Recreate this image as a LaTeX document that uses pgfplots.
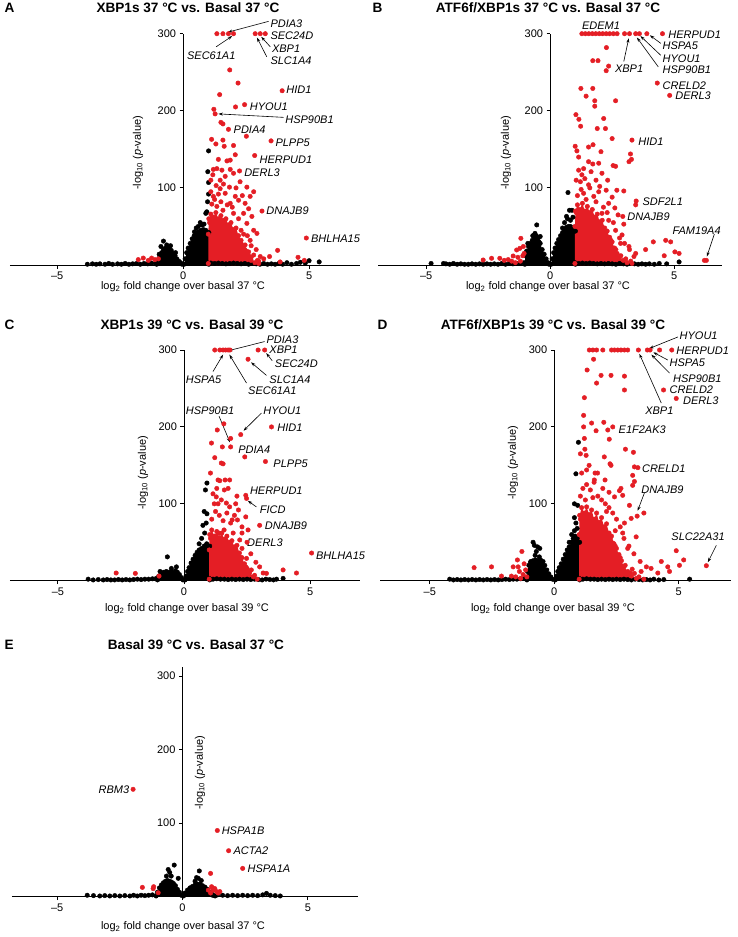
\documentclass[border=0pt]{standalone}
\usepackage{fontspec}
\setmainfont{Liberation Sans}
\usepackage{pgfplots}
\pgfplotsset{compat=1.18}
\usepackage{pgfplotstable}
\usetikzlibrary{arrows.meta}
\definecolor{vred}{RGB}{228,30,37}

\pgfplotsset{
  volc/.style={
    scale only axis, axis lines=middle, clip=false,
    axis line style={-, line width=0.9pt},
    ymin=0, ymax=300,
    xtick={-5,0,5}, xticklabels={\textendash5,0,5},
    ytick={100,200,300}, yticklabels={100,200,300},
    hide obscured x ticks=false, hide obscured y ticks=false,
    tick align=outside, major tick length=3.5pt,
    tick style={line width=0.9pt, black},
    tick label style={font=\fontsize{11}{13}\selectfont},
    /pgf/number format/assume math mode=true,
  },
  bdot/.style={only marks, color=black, mark=*, mark size=2.25pt, mark options={draw=black, fill=black, line width=0.4pt, solid}},
  rdot/.style={only marks, color=vred, mark=*, mark size=2.25pt, mark options={draw=vred, fill=vred, line width=0.4pt, solid}},
  bblob/.style={fill=black, draw=none},
  rblob/.style={fill=vred, draw=none},
}
\tikzset{
  gl/.style={font=\fontsize{11}{13}\selectfont\itshape, inner sep=0pt, anchor=west},
  arr/.style={-{Stealth[length=4.5pt,width=3pt]}, line width=0.6pt},
}
\newcommand{\ttl}{\fontsize{13.6}{15}\selectfont\bfseries}
\newcommand{\lbl}{\fontsize{11}{13}\selectfont}
\newcommand{\ylab}{-log\textsubscript{10} (\textit{p}-value)}

% ---------- Panel A blobs ----------
\pgfplotstableread{
x y
-1.05 1
-1.0 6
-0.92 11
-0.85 16
-0.78 20
-0.7 22
-0.62 21
-0.55 23
-0.47 19
-0.4 15
-0.32 12
-0.25 8
-0.17 5
-0.1 3
-0.04 1
}\AbL
\pgfplotstableread{
x y
0.04 1
0.08 8
0.14 16
0.2 22
0.28 28
0.36 34
0.44 38
0.52 40
0.6 43
0.7 45
0.8 46
0.9 45
0.98 42
1.02 42
1.02 1
}\AbR
\pgfplotstableread{
x y
1.0 2
1.0 40
1.02 60
1.1 66
1.2 62
1.3 68
1.4 60
1.5 64
1.6 58
1.7 60
1.8 52
1.9 55
2.0 46
2.1 48
2.2 38
2.3 32
2.4 24
2.5 18
2.6 12
2.7 6
2.85 3
3.0 2
}\ArC
% ---------- Panel B blobs ----------
\pgfplotstableread{
x y
-1.02 1
-1.0 12
-0.95 18
-0.87 24
-0.8 28
-0.72 32
-0.64 36
-0.56 38
-0.48 35
-0.4 28
-0.32 20
-0.24 14
-0.16 8
-0.08 3
-0.04 1
}\BbL
\pgfplotstableread{
x y
0.04 1
0.08 8
0.14 16
0.2 22
0.27 28
0.34 33
0.42 38
0.5 42
0.58 46
0.66 49
0.74 50
0.82 50
0.9 48
0.97 44
1.02 44
1.02 1
}\BbR
\pgfplotstableread{
x y
1.0 2
1.0 50
1.02 70
1.1 78
1.2 72
1.3 80
1.4 70
1.5 76
1.6 68
1.7 72
1.8 62
1.9 66
2.0 56
2.1 58
2.2 48
2.3 44
2.4 36
2.5 30
2.6 22
2.7 15
2.8 10
2.95 6
3.1 3
3.3 2
}\BrC
% ---------- Panel C blobs ----------
\pgfplotstableread{
x y
-1.05 1
-1.0 6
-0.9 9
-0.8 11
-0.7 12
-0.6 11
-0.5 12
-0.42 10
-0.34 13
-0.26 11
-0.18 8
-0.1 4
-0.04 1
}\CbL
\pgfplotstableread{
x y
0.04 1
0.08 6
0.14 12
0.2 17
0.28 23
0.36 28
0.44 33
0.52 37
0.6 40
0.7 42
0.8 45
0.9 48
0.97 45
1.02 45
1.02 1
}\CbR
\pgfplotstableread{
x y
1.0 2
1.0 40
1.02 60
1.1 66
1.2 58
1.3 64
1.4 56
1.5 62
1.6 54
1.7 58
1.8 50
1.9 52
2.0 44
2.1 46
2.2 36
2.3 30
2.4 22
2.5 16
2.6 10
2.75 5
2.9 2
}\CrC
% ---------- Panel D blobs ----------
\pgfplotstableread{
x y
-1.1 1
-1.08 12
-1.02 20
-0.95 24
-0.85 26
-0.75 27
-0.65 26
-0.55 27
-0.45 25
-0.38 20
-0.3 14
-0.22 9
-0.14 5
-0.07 2
}\DbL
\pgfplotstableread{
x y
0.04 1
0.08 6
0.14 12
0.2 17
0.28 22
0.36 28
0.44 34
0.52 40
0.6 44
0.68 50
0.76 55
0.84 58
0.92 55
0.97 50
1.02 50
1.02 1
}\DbR
\pgfplotstableread{
x y
1.0 2
1.0 60
1.02 85
1.1 95
1.2 88
1.3 96
1.4 86
1.5 92
1.6 80
1.7 88
1.8 76
1.9 82
2.0 70
2.1 74
2.2 62
2.3 58
2.4 48
2.5 42
2.6 34
2.7 26
2.8 18
2.95 12
3.1 6
3.3 3
3.6 2
}\DrC
% ---------- Panel E blobs ----------
\pgfplotstableread{
x y
-1.05 1
-1.0 6
-0.92 12
-0.84 16
-0.76 19
-0.68 21
-0.6 22
-0.52 21
-0.44 20
-0.36 18
-0.28 15
-0.2 10
-0.12 6
-0.05 2
}\EbL
\pgfplotstableread{
x y
0.04 1
0.1 5
0.2 9
0.3 12
0.4 14
0.5 16
0.6 17
0.7 17
0.8 15
0.9 13
1.0 10
1.1 6
1.2 3
1.3 1
}\EbR

\begin{document}
\begin{tikzpicture}[x=1pt,y=1pt]
\path[use as bounding box] (0,0) rectangle (738,-937);

% ================= Panel A =================
\begin{axis}[volc, at={(10pt,-265pt)}, anchor=south west,
  width=350pt, height=231.3pt, xmin=-6.87, xmax=7.02]
\addplot[bdot] coordinates {(-3.8,1)(-3.6,1.5)(-3.45,1)(-3.3,1.5)(-3.1,1)(-2.95,2)(-2.8,1)(-2.6,1.5)(-2.45,1)(-2.3,2)(-2.15,1)(-2.0,1.5)(-1.85,2)(-1.7,1)(-1.55,2)(-1.4,1.5)(-1.25,2.5)(-1.1,2)(-0.95,3)
 (0.95,3)(1.1,2.5)(1.25,2)(1.4,2.5)(1.55,2)(1.7,1.5)(1.85,2)(2.0,2.5)(2.15,2)(2.3,1.5)(2.45,2)(2.6,1)(2.75,2)(2.9,1.5)(3.05,1)(3.2,2)(3.35,1)(3.5,1.5)(3.65,1)(3.8,2)(3.95,1)(4.12,3)(4.3,1)(4.5,2)(4.65,3.5)(4.85,2.5)(5.0,5.6)(5.4,4)};
\addplot[bblob] table {\AbL} \closedcycle;
\addplot[bdot] table {\AbL};
\addplot[bblob] table {\AbR} \closedcycle;
\addplot[bdot] table {\AbR};
\addplot[bdot] coordinates {(-0.78,31)(-0.88,24)(-0.65,26)(-0.5,25)(-0.3,16)(-0.95,14)
 (0.45,43)(0.52,48)(0.6,50)(0.75,52)(0.68,55)(0.83,53)(0.94,69)(0.9,67)(0.97,82)(1.01,92)(1.01,107)(0.98,121)(1.01,148)};
\addplot[rblob] table {\ArC} \closedcycle;
\addplot[rdot] table {\ArC};
\addplot[rdot] coordinates {(1.34,300)(1.58,300)(1.8,300)(2.0,300)(2.86,300)(3.06,300)(3.26,300)
 (1.85,253)(2.18,236)(1.45,221)(3.93,226)(2.08,205)(2.44,208)(1.22,202)(1.27,196)(1.5,185)(1.58,183)(1.8,176)(2.51,167)(3.49,161)(1.13,163)(1.3,157)(1.58,162)(1.63,154)(2.0,155)(2.84,142)(1.74,135)(1.87,136)(2.07,143)(1.4,137)(1.2,124)(1.34,125)(1.54,123)(1.87,124)(2.24,122)(1.18,117)(1.47,110)(1.67,115)(2.0,119)(1.31,103)(1.47,99)(1.84,101)(2.26,108)(2.53,101)(2.8,95)(2.66,89)(1.2,89)(1.67,93)(2.07,89)(1.87,80)(2.2,84)(2.46,80)(2.6,73)(2.4,67)(1.14,79)(1.34,76)(1.58,71)(2.0,67)(2.2,60)(2.73,63)(2.53,54)(2.8,45)(2.93,41)(2.66,32)(2.46,26)(2.6,17)(2.8,13)(3.06,11)(3.43,11)(3.75,19)(4.56,10)(4.81,6)(3.85,4)(3.13,70)(4.89,35)
 (1.1,95)(1.25,85)(1.5,82)(1.75,78)(1.95,75)(1.6,105)(1.1,110)(2.35,90)(2.1,100)(1.4,92)(2.3,45)(2.4,40)(2.55,38)(2.7,25)(2.9,20)(3.2,8)(3.0,5)
 (1.05,55)(1.15,50)(1.3,58)(1.45,52)(1.65,50)(1.85,46)(2.05,40)(2.15,33)(2.3,28)(2.45,20)(2.55,14)(2.7,10)(2.95,6)(1.6,40)(2.0,30)
 (-1.78,7)(-1.58,9)(-1.38,6)(-1.25,9)(-1.12,7)(-0.98,8)};
\node[gl] at (axis cs:3.46,313) {PDIA3};
\draw[arr] (axis cs:3.39,316) -- (axis cs:1.78,302);
\node[gl] at (axis cs:0.15,272) {SEC61A1};
\draw[arr] (axis cs:1.31,283) -- (axis cs:1.95,297);
\node[gl] at (axis cs:3.46,297) {SEC24D};
\node[gl] at (axis cs:3.52,280) {XBP1};
\draw[arr] (axis cs:3.46,283) -- (axis cs:3.1,296);
\node[gl] at (axis cs:3.46,265) {SLC1A4};
\draw[arr] (axis cs:3.32,270) -- (axis cs:2.93,295);
\node[gl] at (axis cs:4.09,227) {HID1};
\node[gl] at (axis cs:2.64,205) {HYOU1};
\node[gl] at (axis cs:4.05,189) {HSP90B1};
\draw[arr] (axis cs:3.99,191.5) -- (axis cs:1.4,196);
\node[gl] at (axis cs:2.0,176) {PDIA4};
\node[gl] at (axis cs:3.66,158) {PLPP5};
\node[gl] at (axis cs:3.03,136) {HERPUD1};
\node[gl] at (axis cs:2.42,120) {DERL3};
\node[gl] at (axis cs:3.3,70) {DNAJB9};
\node[gl] at (axis cs:5.07,34) {BHLHA15};
\end{axis}

% ================= Panel B =================
\begin{axis}[volc, at={(378pt,-265pt)}, anchor=south west,
  width=344pt, height=231.3pt, xmin=-6.94, xmax=6.93]
\addplot[bdot] coordinates {(-4.8,2)(-4.3,2)(-4.2,1.5)(-4.05,1)(-3.9,2)(-3.75,1)(-3.6,1.5)(-3.45,1)(-3.3,1)(-3.15,1.5)(-3.0,1)(-2.85,1.5)(-2.7,1)(-2.55,1.5)(-2.4,1)(-2.25,1.5)(-2.1,1)(-1.95,2)(-1.8,1)(-1.65,2)(-1.5,1.5)(-1.35,2)(-1.2,2)(-1.05,3)
 (1.0,3)(1.15,2)(1.3,2.5)(1.45,2)(1.6,2.5)(1.75,2)(1.9,1.5)(2.05,2)(2.2,1.5)(2.35,2)(2.5,1.5)(2.65,1)(2.8,2)(2.95,1.5)(3.1,1)(3.25,2)(3.4,1.5)(3.55,1)(3.7,1.5)(3.85,1)(4.0,1.5)(4.2,1)(4.4,2)(4.7,1.5)(5.2,4)};
\addplot[bblob] table {\BbL} \closedcycle;
\addplot[bdot] table {\BbL};
\addplot[bblob] table {\BbR} \closedcycle;
\addplot[bdot] table {\BbR};
\addplot[bdot] coordinates {(-0.54,52)(-0.61,41)(-0.4,37)(-0.7,38)(-0.9,28)(-0.45,30)
 (0.72,94)(0.78,71)(0.88,71)(0.66,63)(0.58,55)(0.82,58)(0.7,60)(0.92,62)(0.5,48)};
\addplot[rblob] table {\BrC} \closedcycle;
\addplot[rdot] table {\BrC};
\addplot[rdot] coordinates {(1.28,300)(1.42,300)(1.56,300)(1.7,300)(1.84,300)(1.98,300)(2.12,300)(2.26,300)(2.4,300)(2.55,300)(2.7,300)(3.0,300)(3.2,300)(3.45,300)(3.6,300)(3.9,300)(4.53,300)
 (2.27,282)(1.72,265)(1.93,265)(2.36,258)(2.26,252)(1.24,229)(1.72,229)(1.45,219)(1.8,213)(1.8,206)(2.64,213)(1.04,195)(1.16,189)(1.23,180)(2.16,190)(1.9,177)(2.23,177)(3.3,162)(2.5,164)(1.01,154)(1.08,148)(1.55,153)(1.73,156)(2.05,147)(3.24,144)(3.18,134)(3.28,137)(1.55,134)(1.72,131)(1.96,132)(2.54,129)(2.64,128)(1.15,123)(1.28,117)(1.65,121)(2.09,119)(2.32,110)(1.22,108)(1.55,104)(1.96,95)(2.26,97)(2.69,97)(2.97,96)(3.45,78)(3.47,83)(1.35,93)(1.76,89)(2.36,80)(2.61,74)(2.93,63)(2.97,53)(2.74,65)(2.09,67)(2.36,58)(2.64,45)(2.9,39)(2.84,28)(3.18,24)(3.45,15)(3.38,11)(4.16,30)(4.66,32)(4.86,30)(5.03,17)(5.2,15)(4.6,12)(3.85,20)(6.22,6)(6.3,6)(4.32,236)(4.82,220)
 (1.1,90)(1.25,98)(1.45,85)(1.6,100)(1.85,82)(2.15,75)(1.05,110)(1.4,112)(1.85,110)(2.5,88)(2.3,68)(2.55,55)(2.8,35)(3.0,28)(3.2,20)(1.15,140)(1.35,125)(2.0,102)
 (1.05,68)(1.25,70)(1.45,65)(1.65,62)(1.85,58)(2.05,50)(2.25,42)(2.45,32)(2.65,20)(2.85,12)(3.05,8)(3.25,5)
 (-2.7,6.5)(-2.36,8.7)(-2.03,8.7)(-1.85,6)(-1.69,7)(-1.49,11.7)(-1.35,19.5)(-1.18,34.6)(-1.22,21.6)(-1.08,24)(-1.3,10)(-1.1,12)(-1.55,5)(-1.2,5)(-1.4,3)(-1.05,15)};
\node[gl] at (axis cs:1.28,311) {EDEM1};
\node[gl] at (axis cs:4.76,299) {HERPUD1};
\node[gl] at (axis cs:4.53,284) {HSPA5};
\draw[arr] (axis cs:4.46,287.5) -- (axis cs:4.02,298);
\node[gl] at (axis cs:4.53,268) {HYOU1};
\draw[arr] (axis cs:4.46,272) -- (axis cs:3.64,297);
\node[gl] at (axis cs:4.53,253) {HSP90B1};
\draw[arr] (axis cs:4.36,257) -- (axis cs:3.5,295);
\node[gl] at (axis cs:2.61,254) {XBP1};
\draw[arr] (axis cs:2.97,264) -- (axis cs:3.17,294);
\node[gl] at (axis cs:4.53,233) {CRELD2};
\node[gl] at (axis cs:5.04,219) {DERL3};
\node[gl] at (axis cs:3.55,160) {HID1};
\node[gl] at (axis cs:3.72,82) {SDF2L1};
\node[gl] at (axis cs:3.11,62) {DNAJB9};
\node[gl] at (axis cs:4.93,44.5) {FAM19A4};
\draw[arr] (axis cs:6.62,40) -- (axis cs:6.32,11);
\end{axis}

% ================= Panel C =================
\begin{axis}[volc, at={(10pt,-580.7pt)}, anchor=south west,
  width=350pt, height=230.7pt, xmin=-6.9, xmax=6.98]
\addplot[bdot] coordinates {(-3.8,2)(-3.6,1)(-3.4,1.5)(-3.2,1)(-3.05,1.5)(-2.9,1)(-2.75,1)(-2.6,1.5)(-2.45,1)(-2.3,1.5)(-2.15,1)(-2.0,1.5)(-1.85,2)(-1.7,1.5)(-1.55,2)(-1.4,2)(-1.25,2.5)(-1.1,3)
 (1.0,3)(1.15,2)(1.3,2.5)(1.45,2)(1.6,2)(1.75,1.5)(1.9,2)(2.05,1.5)(2.2,2)(2.35,1.5)(2.5,2)(2.65,1.5)(2.8,2)(2.95,1.5)(3.1,1)(3.25,2)(3.4,1.5)(3.55,1)(3.67,2)(3.93,3)};
\addplot[bblob] table {\CbL} \closedcycle;
\addplot[bdot] table {\CbL};
\addplot[bblob] table {\CbR} \closedcycle;
\addplot[bdot] table {\CbR};
\addplot[bdot] coordinates {(-0.66,31)(-0.3,18)(-0.95,12)(-0.5,16)
 (0.91,127)(0.85,118)(0.8,90)(0.91,87)(0.75,72)(0.82,62)(0.88,75)(0.7,55)(0.6,48)};
\addplot[rblob] table {\CrC} \closedcycle;
\addplot[rdot] table {\CrC};
\addplot[rdot] coordinates {(1.22,300)(1.42,300)(1.55,300)(1.65,300)(1.75,300)(1.82,300)(2.94,300)(3.2,300)
 (2.54,288)(1.58,204)(1.32,196)(1.09,179)(1.52,174)(1.85,174)(1.85,185)(2.25,190)(3.47,200)(2.41,161)(3.23,155)(1.22,160)(1.48,153)(1.55,152)(1.05,140)(1.35,131)(1.42,130)(1.63,131)(1.81,131)(2.45,111)(2.48,107)(1.15,113)(1.28,109)(1.48,105)(1.68,101)(1.35,100)(1.81,96)(2.16,92)(2.45,83)(2.12,79)(1.91,79)(3.0,72)(2.54,66)(1.39,62)(1.59,66)(1.95,62)(2.21,53)(2.3,42)(2.48,29)(5.06,36)(2.67,14)(3.14,10)(3.27,9.5)(3.93,14)(4.46,10)
 (1.1,80)(1.25,90)(1.4,85)(1.55,78)(1.7,88)(1.85,75)(2.0,85)(2.3,70)(1.2,100)(1.6,118)(1.75,120)(1.3,120)(2.05,100)(2.3,62)(2.5,50)(2.65,35)(2.85,24)(3.0,18)(2.1,110)
 (1.05,55)(1.25,55)(1.45,50)(1.65,48)(1.85,45)(2.05,38)(2.25,30)(2.45,18)(2.6,12)(2.8,7)
 (-2.69,10)(-1.93,9.5)(-0.99,6)};
\node[gl] at (axis cs:3.27,314) {PDIA3};
\draw[arr] (axis cs:3.2,311) -- (axis cs:1.75,299);
\node[gl] at (axis cs:3.38,300) {XBP1};
\node[gl] at (axis cs:3.6,282) {SEC24D};
\draw[arr] (axis cs:3.5,286) -- (axis cs:3.26,296);
\node[gl] at (axis cs:3.38,262) {SLC1A4};
\draw[arr] (axis cs:3.27,267) -- (axis cs:2.66,284);
\node[gl] at (axis cs:0.07,262) {HSPA5};
\draw[arr] (axis cs:1.15,272) -- (axis cs:1.55,294);
\node[gl] at (axis cs:2.54,247) {SEC61A1};
\draw[arr] (axis cs:2.48,257) -- (axis cs:1.8,294);
\node[gl] at (axis cs:0.07,221) {HSP90B1};
\draw[arr] (axis cs:1.39,214) -- (axis cs:1.82,180);
\node[gl] at (axis cs:3.14,221) {HYOU1};
\draw[arr] (axis cs:3.07,218) -- (axis cs:2.36,195);
\node[gl] at (axis cs:3.7,199) {HID1};
\node[gl] at (axis cs:2.15,170) {PDIA4};
\node[gl] at (axis cs:3.54,152) {PLPP5};
\node[gl] at (axis cs:2.61,117) {HERPUD1};
\node[gl] at (axis cs:3.0,92) {FICD};
\draw[arr] (axis cs:2.87,96) -- (axis cs:2.53,104);
\node[gl] at (axis cs:3.2,71) {DNAJB9};
\node[gl] at (axis cs:2.5,49) {DERL3};
\node[gl] at (axis cs:5.23,33) {BHLHA15};
\end{axis}

% ================= Panel D =================
\begin{axis}[volc, at={(380pt,-580.7pt)}, anchor=south west,
  width=351pt, height=230.7pt, xmin=-7.0, xmax=7.1]
\addplot[bdot] coordinates {(-4.2,2)(-4.05,1)(-3.9,1.5)(-3.75,1)(-3.6,1.5)(-3.45,1)(-3.3,1.5)(-3.15,1)(-3.0,1.5)(-2.85,1)(-2.7,1.5)(-2.55,1)(-2.4,1.5)(-2.25,1)(-2.1,1.5)(-1.95,2)(-1.8,1.5)(-1.65,2)(-1.5,2)(-1.35,2.5)(-1.2,3)
 (1.0,3)(1.15,2)(1.3,2.5)(1.45,2)(1.6,2)(1.75,1.5)(1.9,2)(2.05,1.5)(2.2,2)(2.35,1.5)(2.5,2)(2.65,1.5)(2.8,2)(2.95,1.5)(3.1,1)(3.25,2)(3.4,1.5)(3.55,1)(3.7,1.5)(3.85,1)(4.0,2)(4.2,1)(4.4,1.5)(5.44,2)};
\addplot[bblob] table {\DbL} \closedcycle;
\addplot[bdot] table {\DbL};
\addplot[bblob] table {\DbR} \closedcycle;
\addplot[bdot] table {\DbR};
\addplot[bdot] coordinates {(-0.85,50)(-0.67,44)(-0.58,42)(-0.77,33)(-0.6,31)(-0.94,25)(-0.72,38)(-0.8,46)
 (0.97,180)(0.87,139)(0.81,100)(0.94,98)(0.81,82)(0.87,75)(0.81,65)(0.7,60)(0.6,50)(0.92,68)};
\addplot[rblob] table {\DrC} \closedcycle;
\addplot[rdot] table {\DrC};
\addplot[rdot] coordinates {(1.41,300)(1.55,300)(1.7,300)(1.95,300)(2.3,300)(2.42,300)(2.55,300)(2.68,300)(2.82,300)(2.95,300)(3.38,300)(3.74,300)(3.85,300)(4.23,300)(4.72,300)
 (1.58,288)(1.32,274)(1.88,267)(2.28,267)(2.82,266)(2.82,248)(1.7,257)(4.39,248)(4.9,237)(1.21,238)(1.18,215)(1.18,200)(1.5,205)(1.99,206)(1.68,195)(2.15,196)(2.35,200)(2.21,184)(1.21,185)(1.23,171)(1.28,163)(2.01,161)(2.86,171)(3.18,167)(2.24,152)(2.28,150)(3.22,148)(3.36,147)(3.15,137)(3.22,129)(3.15,124)(1.3,144)(1.64,140)(1.74,140)(1.61,131)(2.04,131)(2.62,117)(2.75,111)(2.42,109)(2.68,120)(3.02,98)(3.6,88)(3.33,84)(3.09,81)(2.82,75)(3.29,57)(2.95,42)(2.75,62)(2.35,49)(4.9,39)(5.2,27)(5.03,20)(6.11,19.5)(4.3,25)(4.56,18)(4.63,12)(3.89,16)(4.16,10)(3.49,12)(3.22,9.5)(3.13,15)
 (1.05,110)(1.15,120)(1.3,125)(1.45,118)(1.6,128)(1.75,110)(1.9,105)(2.05,100)(2.2,95)(2.35,88)(2.5,80)(1.25,105)(1.55,108)(1.95,120)(2.2,115)(2.65,70)(2.8,55)(3.0,45)(3.2,35)(3.45,25)(3.7,18)(2.1,90)(2.45,65)(1.1,140)(1.4,150)(1.05,165)
 (1.05,80)(1.25,85)(1.45,80)(1.65,75)(1.85,70)(2.05,65)(2.25,55)(2.45,45)(2.65,30)(2.85,20)(3.05,10)(3.4,5)
 (-3.22,17)(-2.52,18)(-2.12,6)(-1.72,6)(-1.65,18)(-1.3,38)(-1.48,27)(-1.21,22)(-1.4,12)(-1.25,8)(-1.15,14)(-1.55,5)(-1.35,3)(-1.1,5)(-1.45,18)};
\node[gl] at (axis cs:5.03,318) {HYOU1};
\draw[arr] (axis cs:4.97,317) -- (axis cs:3.82,302);
\node[gl] at (axis cs:4.9,299) {HERPUD1};
\node[gl] at (axis cs:4.63,283.5) {HSPA5};
\draw[arr] (axis cs:4.56,287) -- (axis cs:3.98,297);
\node[gl] at (axis cs:4.77,263) {HSP90B1};
\draw[arr] (axis cs:4.63,270) -- (axis cs:3.9,294);
\node[gl] at (axis cs:4.63,248) {CRELD2};
\node[gl] at (axis cs:5.17,234) {DERL3};
\node[gl] at (axis cs:3.65,221) {XBP1};
\draw[arr] (axis cs:4.3,231) -- (axis cs:3.42,295);
\node[gl] at (axis cs:2.58,196) {E1F2AK3};
\node[gl] at (axis cs:3.52,146) {CRELD1};
\node[gl] at (axis cs:3.49,118) {DNAJB9};
\draw[arr] (axis cs:3.62,114) -- (axis cs:3.35,91);
\node[gl] at (axis cs:4.7,57) {SLC22A31};
\draw[arr] (axis cs:6.51,46) -- (axis cs:6.17,24);
\end{axis}

% ================= Panel E =================
\begin{axis}[volc, at={(12pt,-896.7pt)}, anchor=south west,
  width=346pt, height=230pt, xmin=-6.8, xmax=7.0, ymax=312.6]
\addplot[bdot] coordinates {(-3.8,2)(-3.55,1.5)(-3.3,1)(-3.1,1.5)(-2.9,1)(-2.7,1.5)(-2.5,1)(-2.3,1.5)(-2.1,1)(-1.95,2)(-1.8,1)(-1.65,2)(-1.5,1.5)(-1.35,2)(-1.2,2.5)
 (1.0,3)(1.2,2)(1.4,2.5)(1.6,2)(1.8,1.5)(2.0,2)(2.2,1.5)(2.4,2)(2.6,1.5)(2.8,2)(3.0,1.5)(3.2,2.5)(3.35,4.5)(3.5,2)(3.7,1.5)(3.9,1)};
\addplot[bblob] table {\EbL} \closedcycle;
\addplot[bdot] table {\EbL};
\addplot[bblob] table {\EbR} \closedcycle;
\addplot[bdot] table {\EbR};
\addplot[bdot] coordinates {(-0.33,43)(-0.57,37)(-0.51,33)(-0.17,25)(-0.64,28)(-0.45,28)
 (0.67,35)(0.56,26)(0.63,25)(0.5,21)(0.75,22)};
\addplot[rdot] coordinates {(-1.97,146)(1.39,90)(1.84,62.5)(2.4,38.5)(1.12,31.7)(-1.6,12.7)(-1.15,13.6)(-1.17,11)(-0.97,5.4)(1.16,13.6)(1.23,9)(1.36,7)(1.49,7)(1.29,11)(1.03,9)(1.12,5)(1.2,12)(1.42,5)};
\node[gl, anchor=east] at (axis cs:-2.12,146) {RBM3};
\node[gl] at (axis cs:1.56,90) {HSPA1B};
\node[gl] at (axis cs:2.03,62.5) {ACTA2};
\node[gl] at (axis cs:2.59,38.5) {HSPA1A};
\end{axis}

% ================= Text =================
\node[anchor=west, font=\ttl] at (1,-8) {A};
\node[anchor=west, font=\ttl] at (369,-8) {B};
\node[anchor=west, font=\ttl] at (1,-325) {C};
\node[anchor=west, font=\ttl] at (374,-325) {D};
\node[anchor=west, font=\ttl] at (1,-645) {E};

\node[font=\ttl] at (188,-8) {XBP1s 37 °C vs. Basal 37 °C};
\node[font=\ttl] at (548,-8) {ATF6f/XBP1s 37 °C vs. Basal 37 °C};
\node[font=\ttl] at (192,-325) {XBP1s 39 °C vs. Basal 39 °C};
\node[font=\ttl] at (553,-325) {ATF6f/XBP1s 39 °C vs. Basal 39 °C};
\node[font=\ttl] at (196,-645) {Basal 39 °C vs. Basal 37 °C};

\node[font=\lbl] at (183,-287) {log\textsubscript{2} fold change over basal 37 °C};
\node[font=\lbl] at (548,-287) {log\textsubscript{2} fold change over basal 37 °C};
\node[font=\lbl] at (187,-609) {log\textsubscript{2} fold change over basal 39 °C};
\node[font=\lbl] at (553,-609) {log\textsubscript{2} fold change over basal 39 °C};
\node[font=\lbl] at (183,-927) {log\textsubscript{2} fold change over basal 37 °C};

\node[font=\lbl, rotate=90] at (138,-153) {\ylab};
\node[font=\lbl, rotate=90] at (506,-153) {\ylab};
\node[font=\lbl, rotate=90] at (143,-473) {\ylab};
\node[font=\lbl, rotate=90] at (513,-463) {\ylab};
\node[font=\lbl, rotate=90] at (200,-773) {\ylab};
\end{tikzpicture}
\end{document}
